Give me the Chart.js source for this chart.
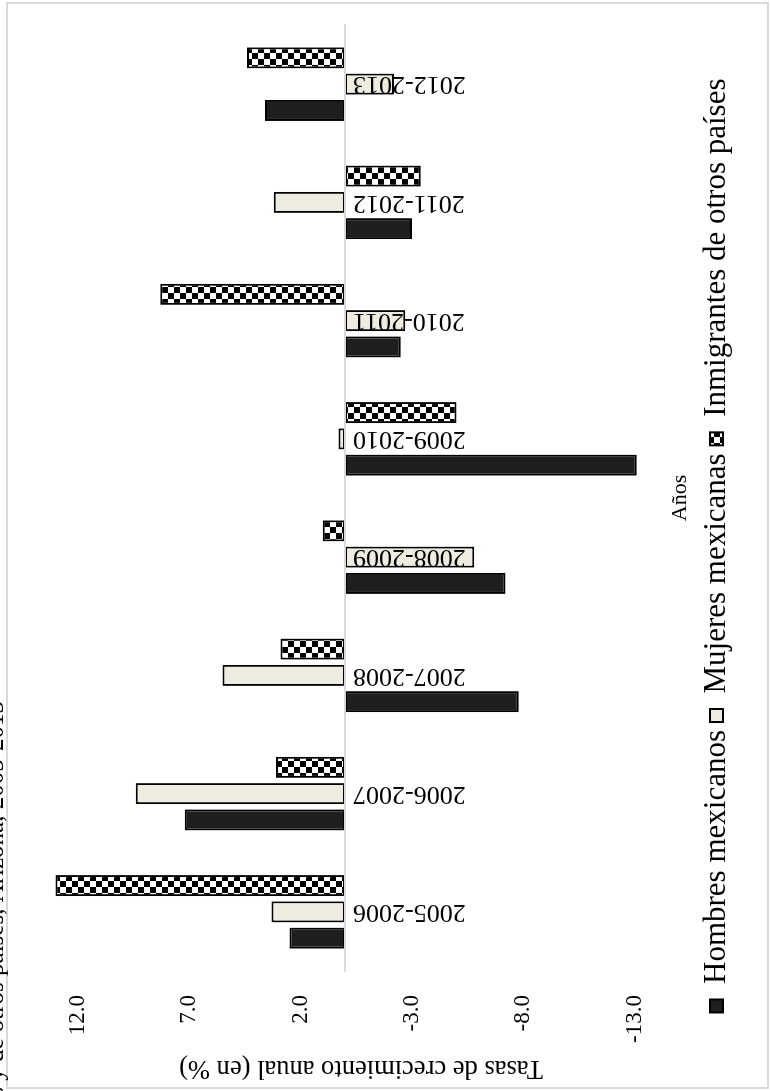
<!DOCTYPE html>
<html lang="es">
<head>
<meta charset="utf-8">
<title>Tasas de crecimiento anual, Arizona, 2005-2013</title>
<script src="https://cdn.jsdelivr.net/npm/chart.js@4.4.1/dist/chart.umd.min.js"></script>
<style>
  html, body { margin: 0; padding: 0; background: #fff; }
  body { width: 770px; height: 1091px; overflow: hidden; position: relative; }
  /* la figura original va girada 90 grados a la izquierda */
  #giro { position: absolute; left: 0; top: 0; width: 1091px; height: 770px;
          transform-origin: 0 0; transform: translate(0, 1091px) rotate(-90deg); }
</style>
</head>
<body>
<div id="giro"><canvas id="grafica" width="1091" height="770"></canvas></div>
<script>
const categorias = ['2005-2006', '2006-2007', '2007-2008', '2008-2009', '2009-2010', '2010-2011', '2011-2012', '2012-2013'];
const hombres = [2.5, 7.2, -7.8, -7.2, -13.1, -2.5, -3.0, 3.6];
const mujeres = [3.3, 9.4, 5.5, -5.8, 0.3, -2.7, 3.2, -2.2];
const otros = [13.0, 3.1, 2.9, 1.0, -5.0, 8.3, -3.4, 4.4];
const ticksValor = [12, 7, 2, -3, -8, -13];

const nombres = ['Hombres mexicanos', 'Mujeres mexicanas', 'Inmigrantes de otros países'];
const tituloEje = 'Tasas de crecimiento anual (en %)';
const tituloEjeX = 'Años';
const tituloPrincipal = 'Tasas de crecimiento anual de la población de inmigrantes mexicanos y de otros países, Arizona, 2005-2013';

const fuente = '"Liberation Serif", "Times New Roman", serif';
Chart.defaults.font.family = fuente;
Chart.defaults.color = '#000';

// cuadriculado blanco y negro
function crearCuadros() {
  const c = document.createElement('canvas');
  c.width = 12; c.height = 12;
  const g = c.getContext('2d');
  g.fillStyle = '#fff';
  g.fillRect(0, 0, 12, 12);
  g.fillStyle = '#000';
  g.fillRect(0, 0, 6, 6);
  g.fillRect(6, 6, 6, 6);
  return g.createPattern(c, 'repeat');
}

const textosExtra = {
  id: 'textosExtra',
  afterDraw(chart) {
    const c = chart.ctx;
    c.save();
    c.strokeStyle = '#d9d9d9';
    c.lineWidth = 2;
    c.strokeRect(3, 7, 1085, 761);

    c.fillStyle = '#000';
    c.font = '25px ' + fuente;
    c.textAlign = 'right';
    c.textBaseline = 'alphabetic';
    c.fillText(tituloPrincipal, 390, 3);

    c.translate(23, 361);
    c.rotate(-Math.PI / 2);
    c.textAlign = 'center';
    c.textBaseline = 'middle';
    c.font = '26.5px ' + fuente;
    c.fillText(tituloEje, 0, 0);
    c.restore();
  }
};

const ctx = document.getElementById('grafica').getContext('2d');
const cuadros = crearCuadros();

const comun = {
  borderColor: '#000',
  borderWidth: 2,
  borderSkipped: false,
  categoryPercentage: 0.667,
  barPercentage: 0.8,
  clip: false
};

new Chart(ctx, {
  type: 'bar',
  data: {
    labels: categorias,
    datasets: [
      Object.assign({ label: nombres[0], data: hombres, backgroundColor: '#1e1e1e' }, comun),
      Object.assign({ label: nombres[1], data: mujeres, backgroundColor: '#eeece1' }, comun),
      Object.assign({ label: nombres[2], data: otros, backgroundColor: cuadros }, comun)
    ]
  },
  options: {
    responsive: false,
    animation: false,
    devicePixelRatio: 1,
    layout: { padding: { left: 25, right: 25, top: 11, bottom: 28 } },
    plugins: {
      legend: {
        position: 'bottom',
        labels: {
          boxWidth: 13,
          boxHeight: 13,
          padding: 8,
          color: '#000',
          font: { size: 31 }
        }
      },
      tooltip: { enabled: false }
    },
    scales: {
      x: {
        type: 'category',
        offset: true,
        grid: { display: false, drawTicks: false },
        border: { display: false },
        ticks: { display: false },
        title: { display: true, text: tituloEjeX, font: { size: 22 }, padding: { top: 32, bottom: 0 } }
      },
      x2: {
        type: 'category',
        labels: categorias,
        position: { y: 0 },
        offset: true,
        grid: { display: false, drawTicks: false },
        border: { display: true, color: '#d9d9d9', width: 2, z: 1 },
        ticks: {
          z: 1,
          autoSkip: false,
          minRotation: 90,
          maxRotation: 90,
          padding: 8,
          color: '#000',
          font: { size: 26 }
        }
      },
      y: {
        min: -13,
        max: 15,
        grid: { display: false, drawTicks: false },
        border: { display: false },
        afterBuildTicks: s => { s.ticks = ticksValor.map(v => ({ value: v })); },
        afterFit: s => { s.width = 95; s.paddingTop = 0; s.paddingBottom = 0; },
        ticks: {
          padding: 24,
          color: '#000',
          font: { size: 23 },
          callback: v => Number(v).toFixed(1)
        }
      }
    }
  },
  plugins: [textosExtra]
});
</script>
</body>
</html>
